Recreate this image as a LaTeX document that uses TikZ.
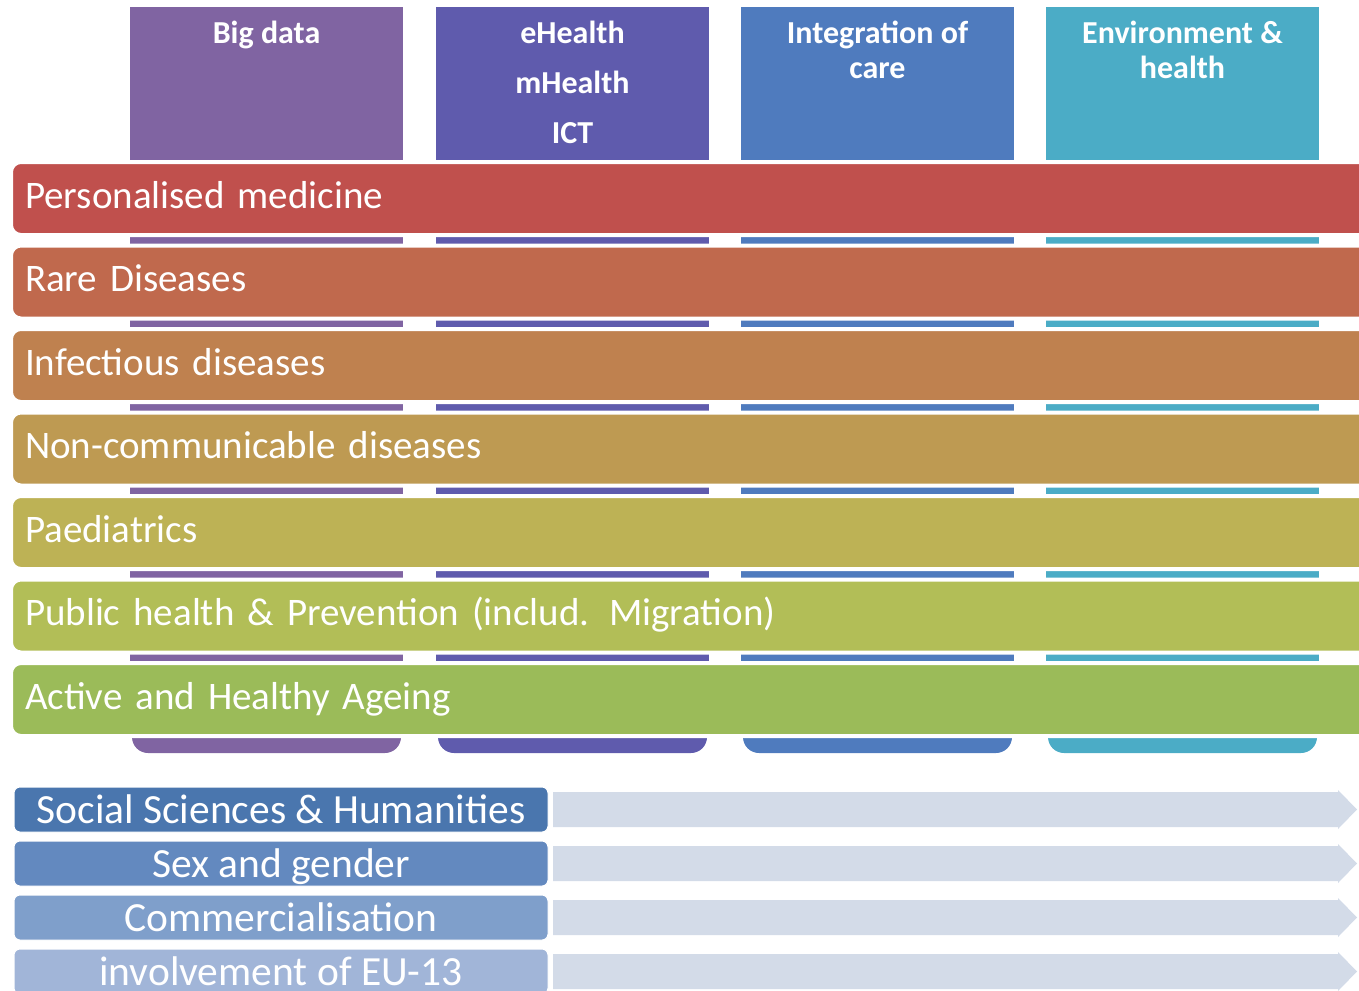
\documentclass[tikz,border=0pt]{standalone}
\usepackage{fontspec}
\setmainfont{Carlito}
\newfontfamily\barfont{Carlito}[WordSpace=0.8]
\usepackage{xcolor}
\usepackage{tikz}

\definecolor{bigdata}{HTML}{8064A2}
\definecolor{ehealth}{HTML}{5F5BAD}
\definecolor{integration}{HTML}{4F7BBE}
\definecolor{environment}{HTML}{4BACC6}
\definecolor{persmed}{HTML}{C0504D}
\definecolor{rare}{HTML}{C0694D}
\definecolor{infect}{HTML}{BF814F}
\definecolor{noncomm}{HTML}{BE9A52}
\definecolor{paed}{HTML}{BDB255}
\definecolor{pubhealth}{HTML}{B2BE57}
\definecolor{ageing}{HTML}{9BBB59}
\definecolor{ssh}{HTML}{4A76AE}
\definecolor{gender}{HTML}{6389BF}
\definecolor{commerce}{HTML}{7F9FCB}
\definecolor{eucount}{HTML}{A1B5D8}
\definecolor{trackfill}{HTML}{D3DBE8}

\begin{document}
\begin{tikzpicture}[x=1pt,y=-1pt,
		collabel/.style={text=white,inner sep=0pt,align=center,anchor=north,font=\fontsize{32}{35}\selectfont\bfseries},
		bar/.style={draw=white,line width=4pt,rounded corners=10pt,minimum height=73pt,text width=1340pt,inner xsep=14pt,align=left,anchor=west,text=white,text height=27pt,text depth=8pt,font=\barfont\fontsize{39}{42}\selectfont},
		crossbox/.style={draw=white,line width=1pt,rounded corners=6pt,minimum height=45pt,minimum width=534pt,inner sep=0pt,text=white,text height=30pt,text depth=3pt,font=\fontsize{41.5}{44}\selectfont},
		track/.style={fill=trackfill}]
						\useasboundingbox (0,0) rectangle (1359,990);
						\clip (0,0) rectangle (1359,990);
						
						% columns behind the bars
						\foreach \x/\c in {130/bigdata,436/ehealth,741/integration,1046/environment}{
							\fill[\c] (\x,7) rectangle (\x+273,700);
							\fill[\c,rounded corners=16pt] (\x+2,600) rectangle (\x+271,753);
						}
						
						\node[collabel] (bigdatalabel) at (266.5,21) {Big data};
						\node[collabel,font=\fontsize{32}{50}\selectfont\bfseries] (ehealthlabel) at (572.5,21) {eHealth\\mHealth\\ICT};
						\node[collabel] (integrationlabel) at (877.5,21) {Integration of\\care};
						\node[collabel] (environmentlabel) at (1182.5,21) {Environment \&\\health};
						
						% horizontal bars
						\foreach \name/\c/\txt [count=\i from 0] in {
							persmedbar/persmed/Personalised medicine,
							rarebar/rare/Rare Diseases,
							infectbar/infect/Infectious diseases,
							noncommbar/noncomm/Non-communicable diseases,
							paedbar/paed/Paediatrics,
							pubhealthbar/pubhealth/Public health \& Prevention (includ. Migration),
							ageingbar/ageing/Active and Healthy Ageing}
							\node[bar,fill=\c] (\name) at (9,198.5+83.5*\i) {\txt};
						
						% cross-cutting issues
						\foreach \i in {0,...,3}
							\fill[track] (553,792+54*\i) -- (1338,792+54*\i) -- (1338,790+54*\i) -- (1357,809.5+54*\i) -- (1338,829+54*\i) -- (1338,827+54*\i) -- (553,827+54*\i) -- cycle;
						
						\foreach \name/\c/\txt [count=\i from 0] in {
							sshbox/ssh/Social Sciences \& Humanities,
							genderbox/gender/Sex and gender,
							commercebox/commerce/Commercialisation,
							eubox/eucount/involvement of EU-13}
							\node[crossbox,fill=\c] (\name) at (281,809.5+54*\i) {\txt};
					\end{tikzpicture}
\end{document}
